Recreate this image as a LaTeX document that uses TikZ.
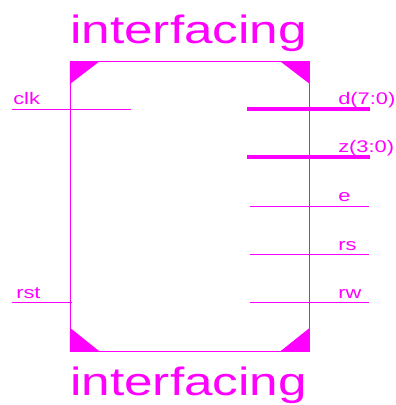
\documentclass[tikz,border=0pt]{standalone}
\usepackage{fontspec}
\setmainfont{Liberation Sans}
\newfontfamily\widefont[FakeStretch=1.3]{Liberation Sans}
\usepackage{tikz}
\usetikzlibrary{positioning}
\definecolor{portcolor}{RGB}{255,0,255}
\tikzset{
    wire/.style={draw=portcolor, line width=0.6pt},
    bus/.style={draw=portcolor, line width=3pt},
    corner/.style={fill=portcolor, draw=none},
    portlabel/.style={text=portcolor, inner sep=0pt, anchor=base west, font=\widefont\fontsize{12.6}{12.6}\selectfont},
    titlelabel/.style={text=portcolor, inner sep=0pt, anchor=base west, font=\widefont\fontsize{29.6}{29.6}\selectfont},
    block/.style={wire, rectangle, inner sep=0pt, minimum width=179.25pt, minimum height=217.5pt, anchor=north west},
}
\begin{document}
\begin{tikzpicture}[x=0.75pt, y=-0.75pt]
    \useasboundingbox (0,0) rectangle (396,405);
    % block
    \node [block] (box) at (70,61) {};
    \fill [corner] (box.north west) -- ++(30,0) -- ++(-30,23) -- cycle;
    \fill [corner] (box.north east) -- ++(-30,0) -- ++(30,23) -- cycle;
    \fill [corner] (box.south west) -- ++(30,0) -- ++(-30,-24) -- cycle;
    \fill [corner] (box.south east) -- ++(-30,0) -- ++(30,-24) -- cycle;

    % names
    \node [titlelabel] (title_top) at (70,43) {interfacing};
    \node [titlelabel] (title_bottom) at (70,395) {interfacing};

    % left ports
    \coordinate (clk_out) at (12,109);
    \coordinate (clk_in) at (131,109);
    \coordinate (rst_out) at (12,302);
    \coordinate (rst_in) at (72,302);
    \node [portlabel] (clk) at (13,104) {clk};
    \node [portlabel] (rst) at (16,298) {rst};
    \draw [wire] (clk_out) -- (clk_in);
    \draw [wire] (rst_out) -- (rst_in);

    % right ports
    \coordinate (d_in) at (247,108.5);
    \coordinate (d_out) at (370,108.5);
    \coordinate (z_in) at (247,157);
    \coordinate (z_out) at (370,157);
    \coordinate (e_in) at (250,206);
    \coordinate (e_out) at (369,206);
    \coordinate (rs_in) at (250,254);
    \coordinate (rs_out) at (369,254);
    \coordinate (rw_in) at (250,302);
    \coordinate (rw_out) at (369,302);
    \node [portlabel] (d) at (338,104) {d(7:0)};
    \node [portlabel] (z) at (338,152) {z(3:0)};
    \node [portlabel] (e) at (338,201) {e};
    \node [portlabel] (rs) at (338,250) {rs};
    \node [portlabel] (rw) at (338,298) {rw};
    \draw [bus] (d_in) -- (d_out);
    \draw [bus] (z_in) -- (z_out);
    \draw [wire] (e_in) -- (e_out);
    \draw [wire] (rs_in) -- (rs_out);
    \draw [wire] (rw_in) -- (rw_out);
\end{tikzpicture}
\end{document}
